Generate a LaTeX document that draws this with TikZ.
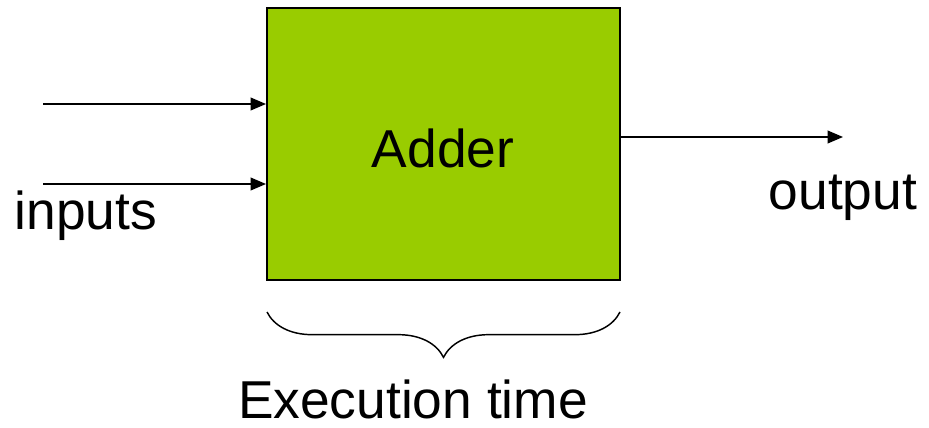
\documentclass[tikz,border=0pt]{standalone}
\usepackage{fontspec}
\setmainfont{Liberation Sans}
\usetikzlibrary{arrows.meta,decorations.pathreplacing}
\definecolor{addergreen}{HTML}{99CC00}
\begin{document}
\begin{tikzpicture}[x=0.75pt,y=-0.75pt,
  lbl/.style={font=\fontsize{40}{46}\selectfont, inner sep=0pt},
  wire/.style={line width=1.2pt, -{Triangle[length=11.5pt,width=9.5pt]}},
  block/.style={draw=black, line width=1.5pt, fill=addergreen,
    minimum width=264.75pt, minimum height=204pt, inner sep=0pt}]
  \useasboundingbox (0,0) rectangle (929,428);
  % the adder block
  \node[block] (adder) at (443.5,144) {};
  \node[lbl] (name) at (443,148) {Adder};
  % input and output wires
  \coordinate (inA) at (43,104);
  \coordinate (inB) at (43,184);
  \coordinate (outE) at (843,137);
  \draw[wire] (inA) -- (inA -| adder.west);
  \draw[wire] (inB) -- (inB -| adder.west);
  \draw[wire] (outE -| adder.east) -- (outE);
  \node[lbl] (inputs) at (86,216) {inputs};
  \node[lbl] (output) at (843,198) {output};
  % timing brace under the block
  \coordinate (bl) at (267,312);
  \coordinate (br) at (620,312);
  \draw[line width=1.1pt, decorate,
        decoration={brace, mirror, amplitude=34pt, aspect=0.5}] (bl) -- (br);
  \node[lbl] (exec) at (413,399) {Execution time};
\end{tikzpicture}
\end{document}
